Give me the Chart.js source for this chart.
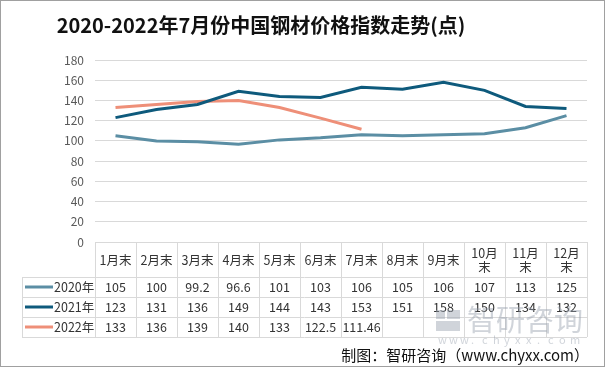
<!DOCTYPE html>
<html><head><meta charset="utf-8">
<script src="https://cdn.jsdelivr.net/npm/chart.js@4/dist/chart.umd.min.js"></script>
<style>html,body{margin:0;padding:0;background:#fff}#wrap{width:605px;height:367px;position:relative}</style>
</head><body><div id="wrap"><canvas id="c" width="605" height="367"></canvas></div>
<script>
const titleText = '2020-2022年7月份中国钢材价格指数走势(点)';
const categories = ['1月末','2月末','3月末','4月末','5月末','6月末','7月末','8月末','9月末','10月末','11月末','12月末'];
const headerLines = [['1月末'],['2月末'],['3月末'],['4月末'],['5月末'],['6月末'],['7月末'],['8月末'],['9月末'],['10月','末'],['11月','末'],['12月','末']];
const seriesNames = ['2020年','2021年','2022年'];
const values2020 = [105,100,99.2,96.6,101,103,106,105,106,107,113,125];
const values2021 = [123,131,136,149,144,143,153,151,158,150,134,132];
const values2022 = [133,136,139,140,133,122.5,111.46,null,null,null,null,null];
const labels2022 = ['133','136','139','140','133','122.5','111.46','','','','',''];
const yTicks = [0,20,40,60,80,100,120,140,160,180];
const colors = ['#5b8ea4','#0e5a7c','#ee8f78'];

const CJK = '"Noto Sans CJK SC","Noto Sans",sans-serif';

const tablePlugin = {
  id:'table',
  afterDraw(chart){
    const ctx = chart.ctx, xs = chart.scales.x, area = chart.chartArea;
    const n = categories.length;
    const w = xs.getPixelForValue(1) - xs.getPixelForValue(0);
    const top = area.bottom, hdrB = top + 35, rowH = 20;
    const rows = [values2020.map(String), values2021.map(String), labels2022];
    const legL = 22;
    ctx.save();
    // title
    ctx.fillStyle = '#111'; ctx.textAlign='center'; ctx.textBaseline='middle';
    ctx.font = 'bold 20px ' + CJK;
    ctx.fillText(titleText, 261, 25);
    ctx.strokeStyle = '#d9d9d9'; ctx.lineWidth = 1;
    ctx.beginPath();
    for (let i=0;i<=n;i++){
      const x = Math.round(xs.getPixelForValue(0) - w/2 + i*w) + 0.5;
      ctx.moveTo(x, top); ctx.lineTo(x, hdrB + 3*rowH);
    }
    ctx.moveTo(legL+0.5, hdrB); ctx.lineTo(legL+0.5, hdrB+3*rowH);
    for (let r=0;r<=3;r++){
      const y = Math.round(hdrB + r*rowH)+0.5;
      ctx.moveTo(legL, y); ctx.lineTo(area.right, y);
    }
    ctx.stroke();
    ctx.fillStyle = '#333';
    ctx.font = '12.5px ' + CJK;
    headerLines.forEach((ls,i)=>{
      const x = xs.getPixelForValue(i);
      if (ls.length===1) ctx.fillText(ls[0], x, top+18);
      else { ctx.fillText(ls[0], x, top+11); ctx.fillText(ls[1], x, top+25); }
    });
    rows.forEach((row,r)=>{
      const y = hdrB + r*rowH + rowH/2;
      row.forEach((t,i)=>{ if(t) ctx.fillText(t, xs.getPixelForValue(i), y); });
      ctx.strokeStyle = colors[r]; ctx.lineWidth = 3;
      ctx.beginPath(); ctx.moveTo(25,y); ctx.lineTo(53,y); ctx.stroke();
      ctx.textAlign='left';
      ctx.fillText(seriesNames[r], 54, y);
      ctx.textAlign='center';
    });
    // watermark
    ctx.fillStyle = 'rgba(150,160,172,0.45)';
    ctx.fillRect(436,310,9,9); ctx.fillRect(447,310,13,9);
    ctx.fillRect(436,321,24,10);
    ctx.font = '29px ' + CJK; ctx.textAlign='left';
    ctx.fillText('智研咨询', 467, 320);
    ctx.font = '11px ' + CJK;
    const wm = 'www.chyxx.com';
    for (let i=0;i<wm.length;i++) ctx.fillText(wm[i], 438 + i*11, 340);
    // footer
    ctx.fillStyle = '#111';
    ctx.font = '15px ' + CJK; ctx.textAlign='right';
    ctx.fillText('制图：智研咨询（www.chyxx.com）', 589, 355);
    // border
    ctx.strokeStyle = '#a0a0a0'; ctx.lineWidth = 1;
    ctx.strokeRect(0.5,0.5,604,366);
    ctx.restore();
  }
};

new Chart(document.getElementById('c'), {
  type:'line',
  data:{
    labels: categories,
    datasets:[
      {label:seriesNames[0], data:values2020, borderColor:colors[0], borderWidth:3, pointRadius:0, tension:0},
      {label:seriesNames[1], data:values2021, borderColor:colors[1], borderWidth:3, pointRadius:0, tension:0},
      {label:seriesNames[2], data:values2022, borderColor:colors[2], borderWidth:3, pointRadius:0, tension:0, spanGaps:false}
    ]
  },
  options:{
    responsive:false, animation:false,
    layout:{padding:{left:0,right:18,top:60,bottom:125}},
    plugins:{
      legend:{display:false}, tooltip:{enabled:false}, title:{display:false}
    },
    scales:{
      x:{display:false, offset:true},
      y:{min:0,max:180,
        afterBuildTicks(s){ s.ticks = yTicks.map(v=>({value:v})); },
        afterFit(s){ s.width = 95; },
        border:{display:false},
        grid:{color:'#d9d9d9', drawTicks:false, lineWidth:1},
        ticks:{color:'#595959', padding:11, font:{family:CJK,size:12}}
      }
    }
  },
  plugins:[tablePlugin]
});
</script></body></html>
